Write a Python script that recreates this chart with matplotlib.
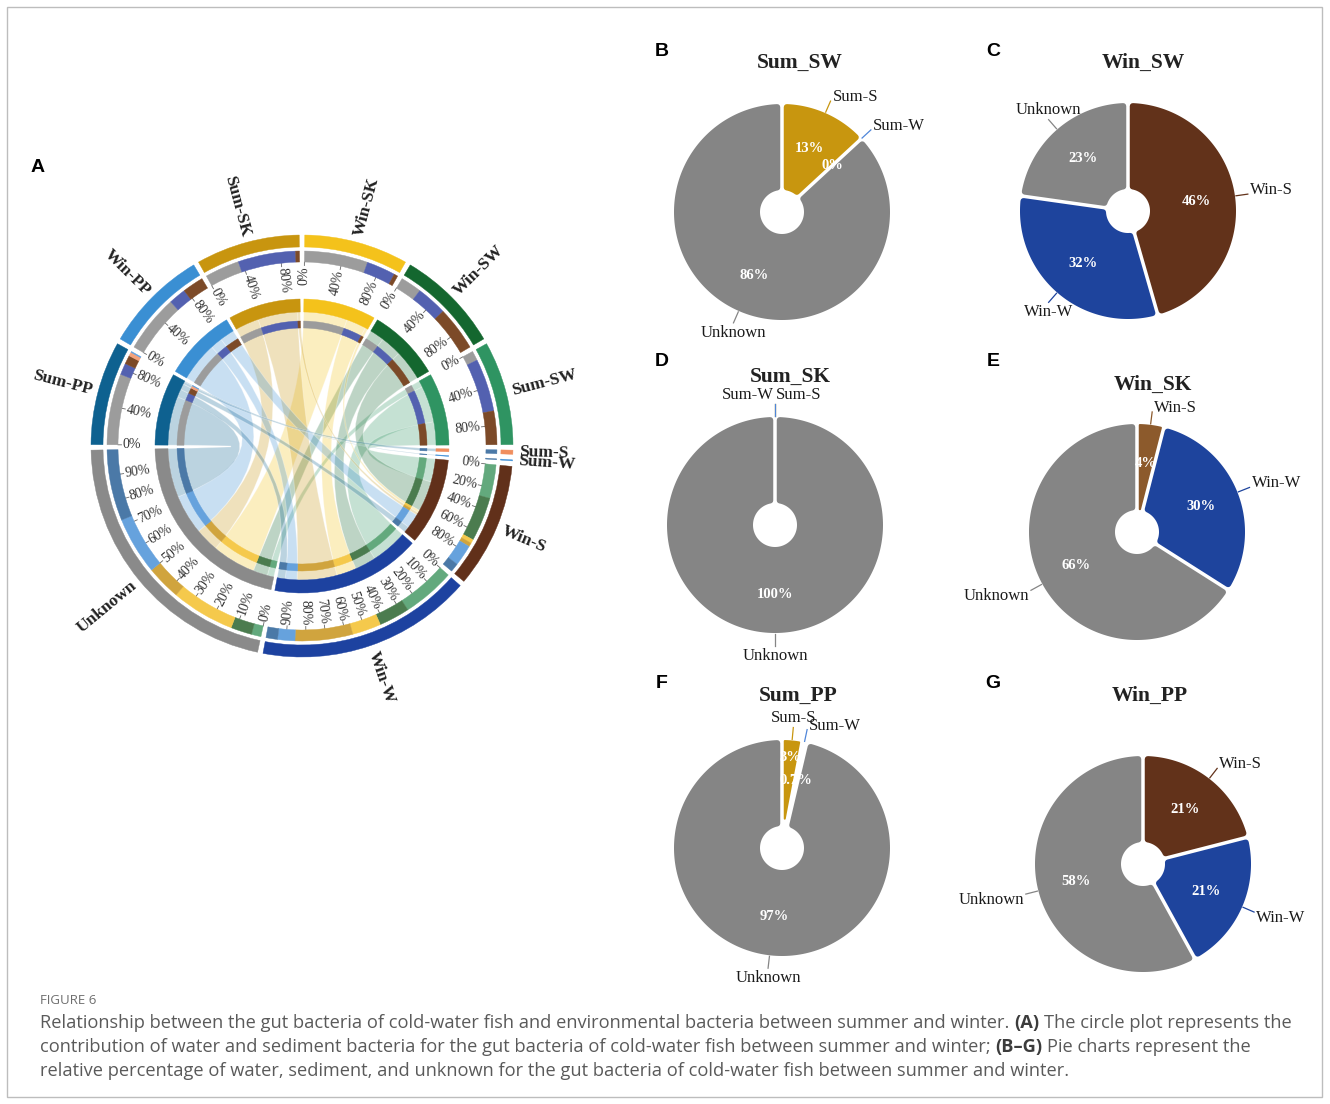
import numpy as np
import matplotlib.pyplot as plt
from matplotlib.patches import Wedge, Polygon, PathPatch, Rectangle
from matplotlib.path import Path

plt.rcParams["font.family"] = ["Liberation Serif", "DejaVu Serif"]

W, H = 1330, 1104
fig = plt.figure(figsize=(W / 100, H / 100), dpi=100)

# ---------------- panel A : source contributions (chord diagram) ----------------
fish_order = ["Sum-SW", "Win-SW", "Win-SK", "Sum-SK", "Win-PP", "Sum-PP"]
source_order = ["Unknown", "Win-W", "Win-S", "Sum-S", "Sum-W"]
# share of each gut community attributed to each source (Unknown, Win-W, Win-S, Sum-S, Sum-W)
sum_sw = [0.10, 0.55, 0.35, 0.00, 0.00]
win_sw = [0.22, 0.32, 0.46, 0.00, 0.00]
win_sk = [0.66, 0.30, 0.04, 0.00, 0.00]
sum_sk = [0.36, 0.60, 0.04, 0.00, 0.00]
win_pp = [0.60, 0.18, 0.22, 0.00, 0.00]
sum_pp = [0.74, 0.12, 0.09, 0.04, 0.01]
contrib = np.array([sum_sw, win_sw, win_sk, sum_sk, win_pp, sum_pp])

circle_order = ["Win-SK", "Win-SW", "Sum-SW", "Sum-S", "Sum-W", "Win-S",
                "Win-W", "Unknown", "Sum-PP", "Win-PP", "Sum-SK"]

fish_ticks = [0.0, 0.4, 0.8]
win_s_ticks = [0.0, 0.2, 0.4, 0.6, 0.8]
decile_ticks = [0.0, 0.1, 0.2, 0.3, 0.4, 0.5, 0.6, 0.7, 0.8, 0.9]

# ---------------- panels B-G : pies ----------------
pie_titles = ["Sum_SW", "Win_SW", "Sum_SK", "Win_SK", "Sum_PP", "Win_PP"]
pie_labels = [["Sum-S", "Sum-W", "Unknown"],
              ["Win-S", "Win-W", "Unknown"],
              ["Sum-S", "Sum-W", "Unknown"],
              ["Win-S", "Win-W", "Unknown"],
              ["Sum-S", "Sum-W", "Unknown"],
              ["Win-S", "Win-W", "Unknown"]]
pie_values = [[13, 0, 86],
              [46, 32, 23],
              [0, 0, 100],
              [4, 30, 66],
              [3, 0.7, 97],
              [21, 21, 58]]

# colours
sec_col = {"Win-SK": "#f4c21b", "Win-SW": "#14672f", "Sum-SW": "#2f9462",
           "Sum-S": "#f08e5e", "Sum-W": "#3d8ed6", "Win-S": "#61301a",
           "Win-W": "#1d42a0", "Unknown": "#8a8a8a", "Sum-PP": "#0e6190",
           "Win-PP": "#3a8fd3", "Sum-SK": "#c8950f"}
trk_col = {"Unknown": "#9c9c9c", "Win-W": "#5361b0", "Win-S": "#7c4a28",
           "Sum-S": "#f4a27c", "Sum-W": "#5b9ee0", "Sum-SW": "#63a97d",
           "Win-SW": "#4b7c4f", "Win-SK": "#f5c94c", "Sum-SK": "#d0a43e",
           "Win-PP": "#66a2dd", "Sum-PP": "#4b79a7"}
pie_col = {"Unknown": "#858585", "Sum-S": "#c8960f", "Sum-W": "#4f86d9",
           "Win-S": "#62321a", "Win-W": "#1e449d"}
pie_col_override = {("Win_SK", "Win-S"): "#8c5a2c"}


def fx(x):
    return x / W


def fy(y):
    return 1 - y / H


def px_axes(cx, cy, hw, hh):
    # axes where one data unit is one pixel, origin at (cx, cy)
    ax = fig.add_axes([fx(cx - hw), fy(cy + hh), 2 * hw / W, 2 * hh / H])
    ax.set_xlim(-hw, hw)
    ax.set_ylim(-hh, hh)
    ax.axis("off")
    return ax


def pol(r, deg):
    t = np.radians(deg)
    return r * np.cos(t), r * np.sin(t)


def radial_text(ax, r, deg, s, outward, **kw):
    th = (deg + 180) % 360 - 180
    right = -90 < th <= 90
    rot = th if right else th + 180
    if outward:
        ha = "left" if right else "right"
    else:
        ha = "right" if right else "left"
    x, y = pol(r, deg)
    ax.text(x, y, s, rotation=rot, rotation_mode="anchor", ha=ha, va="center", **kw)


def ring(ax, r0, r1, a1, a2, color, z=3):
    ax.add_patch(Wedge((0, 0), r1, a2, a1, width=r1 - r0, fc=color, ec=color,
                       lw=0.3, zorder=z))


def chord(ax, a1, a2, b1, b2, r, color):
    ta = np.linspace(a1, a2, 40)
    tb = np.linspace(b1, b2, 40)
    arc_a = [pol(r, t) for t in ta]
    arc_b = [pol(r, t) for t in tb]
    verts = arc_a + [(0, 0), arc_b[0]] + arc_b[1:] + [(0, 0), arc_a[0], arc_a[0]]
    codes = ([Path.MOVETO] + [Path.LINETO] * (len(arc_a) - 1) + [Path.CURVE3] * 2
             + [Path.LINETO] * (len(arc_b) - 1) + [Path.CURVE3] * 2 + [Path.CLOSEPOLY])
    ax.add_patch(PathPatch(Path(verts, codes), fc=color, alpha=0.28, ec="white",
                           lw=0.7, zorder=1))


# ---- chord diagram ----
axA = px_axes(302, 446, 290, 300)

R_OUT, R_OTRK = (199, 211), (184, 195)
R_IN, R_ITRK = (134, 147), (118, 125)
R_CHORD = 134
gap = 1.5

sizes = {f: contrib[i].sum() for i, f in enumerate(fish_order)}
sizes.update({s: contrib[:, j].sum() for j, s in enumerate(source_order)})
unit = (360 - gap * len(circle_order)) / sum(sizes.values())

start, end = {}, {}
a = 90 - gap / 2
for name in circle_order:
    start[name] = a
    end[name] = a - sizes[name] * unit
    a = end[name] - gap

fish_seg, src_seg = {}, {}
for i, f in enumerate(fish_order):
    a = start[f]
    for j, s in enumerate(source_order):
        w = contrib[i, j] * unit
        fish_seg[(f, s)] = (a, a - w)
        a -= w
for j, s in enumerate(source_order):
    b = start[s]
    for i, f in enumerate(fish_order):
        w = contrib[i, j] * unit
        src_seg[(f, s)] = (b, b - w)
        b -= w

for i, f in enumerate(fish_order):
    for j, s in enumerate(source_order):
        if contrib[i, j] <= 0:
            continue
        a1, a2 = fish_seg[(f, s)]
        b1, b2 = src_seg[(f, s)]
        chord(axA, a1, a2, b1, b2, R_CHORD, sec_col[f])
        for r0, r1 in (R_OTRK, R_ITRK):
            ring(axA, r0, r1, a1, a2, trk_col[s])
            ring(axA, r0, r1, b1, b2, trk_col[f])

for name in circle_order:
    a1, a2 = start[name], end[name]
    ring(axA, *R_OUT, a1, a2, sec_col[name])
    ring(axA, *R_IN, a1, a2, sec_col[name])
    radial_text(axA, 217, (a1 + a2) / 2, name, True, fontsize=12.5,
                fontweight="bold", color="#222222")
    if name in fish_order:
        ticks = fish_ticks
    elif name == "Win-S":
        ticks = win_s_ticks
    elif name in ("Win-W", "Unknown"):
        ticks = decile_ticks
    else:
        ticks = []
    for t in ticks:
        ang = a1 - t * (a1 - a2)
        x0, y0 = pol(R_OTRK[0], ang)
        x1, y1 = pol(R_OTRK[0] - 3.5, ang)
        axA.plot([x0, x1], [y0, y1], color="#666666", lw=0.6)
        radial_text(axA, R_OTRK[0] - 4.5, ang, f"{int(round(t * 100))}%", False,
                    fontsize=10, color="#333333")


# ---- pies ----
def rounded_wedge(ax, r_in, r_out, t1, t2, gap_px, rad, color):
    span = t1 - t2
    if span <= 0:
        return
    if span < 25:
        rad = 1.0
    s = gap_px / 2 + rad
    ro, ri = r_out - rad, r_in + rad
    half = np.radians(span / 2)
    if span < 180 and s / np.sin(half) >= ro:
        return
    do = np.degrees(np.arcsin(s / ro))
    pts = [pol(ro, t) for t in np.linspace(t1 - do, t2 + do, 240)]
    if span < 180 and s / np.sin(half) >= ri:
        pts.append(pol(s / np.sin(half), (t1 + t2) / 2))
    else:
        di = np.degrees(np.arcsin(s / ri))
        pts += [pol(ri, t) for t in np.linspace(t2 + di, t1 - di, 120)]
    ax.add_patch(Polygon(pts, closed=True, fc=color, ec=color,
                         lw=2 * rad * 0.72, joinstyle="round"))


label_align_override = {("Sum_SK", "Sum-W"): "right", ("Sum_SK", "Sum-S"): "left"}


def draw_pie(ax, title, labels, values, R=108, hole=22):
    total = float(sum(values))
    n_zero = sum(v == 0 for v in values)
    a = 90.0
    mids = []
    for lab, v in zip(labels, values):
        col = pie_col_override.get((title, lab), pie_col[lab])
        t1, t2 = a, a - v / total * 360
        a = t2
        rounded_wedge(ax, hole, R, t1, t2, 3.5, 3.0, col)
        mid = (t1 + t2) / 2
        mids.append(mid)
        x0, y0 = pol(R + 1, mid)
        x1, y1 = pol(R + 13, mid)
        ax.plot([x0, x1], [y0, y1], color=col, lw=0.9)
        c, sn = np.cos(np.radians(mid)), np.sin(np.radians(mid))
        key = (title, lab)
        if key in label_align_override:
            ha = label_align_override[key]
            ax.text(x1 + (-1 if ha == "right" else 1), y1 + 1, lab, ha=ha, va="bottom",
                    fontsize=12, color="#1a1a1a")
        elif c >= 0.1 or c <= -0.75:
            ha = "left" if c > 0 else "right"
            dx = 2 if c > 0 else -2
            dy = 4 if sn >= 0 else -6
            ax.text(x1 + dx, y1 + dy, lab, ha=ha, va="center", fontsize=12,
                    color="#1a1a1a")
        else:
            va = "bottom" if sn > 0 else "top"
            ax.text(x1, y1 + (2 if sn > 0 else -2), lab, ha="center", va=va,
                    fontsize=12, color="#1a1a1a")

    # percentage labels; a label crowded by the next one is pushed outward
    radii = [0.64 * R] * len(values)
    for k in range(len(values) - 1):
        pa = np.array(pol(radii[k], mids[k]))
        pb = np.array(pol(radii[k + 1], mids[k + 1]))
        if values[k] > 0 and values[k + 1] > 0 and np.hypot(*(pa - pb)) < 22:
            radii[k] = 0.84 * R
    for k, v in enumerate(values):
        if v > 0 or n_zero < 2:
            x, y = pol(radii[k], mids[k])
            ax.text(x, y, f"{v:g}%", color="white", fontsize=10.5,
                    fontweight="bold", ha="center", va="center")


pie_layout = [("B", (662, 52), (782, 212), (800, 63)),
              ("C", (993, 52), (1128, 211), (1143, 63)),
              ("D", (662, 362), (775, 525), (790, 377)),
              ("E", (993, 362), (1137, 532), (1153, 385)),
              ("F", (662, 683), (782, 848), (798, 696)),
              ("G", (993, 683), (1143, 864), (1150, 696))]

for (letter, lxy, cxy, txy), title, labs, vals in zip(pie_layout, pie_titles,
                                                      pie_labels, pie_values):
    ax = px_axes(cxy[0], cxy[1], 150, 150)
    draw_pie(ax, title, labs, vals)
    fig.text(fx(txy[0]), fy(txy[1]), title, fontsize=15.5, fontweight="bold",
             ha="center", va="center", color="#222222")
    fig.text(fx(lxy[0]), fy(lxy[1]), letter, family="Liberation Sans",
             fontsize=14, fontweight="bold", ha="center", va="center")

fig.text(fx(38), fy(168), "A", family="Liberation Sans", fontsize=14,
         fontweight="bold", ha="center", va="center")

# ---- caption ----
renderer = fig.canvas.get_renderer()


def text_width(s, **kw):
    t = fig.text(0, 0, s, **kw)
    w = t.get_window_extent(renderer).width
    t.remove()
    return w


cap_lines = [
    [("Relationship between the gut bacteria of cold-water fish and environmental "
      "bacteria between summer and winter.", False), ("(A)", True),
     ("The circle plot represents the", False)],
    [("contribution of water and sediment bacteria for the gut bacteria of "
      "cold-water fish between summer and winter;", False), ("(B\u2013G)", True),
     ("Pie charts represent the", False)],
    [("relative percentage of water, sediment, and unknown for the gut bacteria "
      "of cold-water fish between summer and winter.", False)],
]

cap_font = dict(family=["Open Sans", "DejaVu Sans"], fontsize=12)
w1 = sum(text_width(s, fontweight="bold" if b else "normal", **cap_font)
         for s, b in cap_lines[0])
w1 += 2 * (text_width("n n", **cap_font) - text_width("nn", **cap_font))
cap_font["fontsize"] = 12 * 1248 / w1
space = text_width("n n", **cap_font) - text_width("nn", **cap_font)

fig.text(fx(40), fy(1000), "FIGURE 6", color="#6e6e6e", va="center",
         family=["Open Sans", "DejaVu Sans"], fontsize=9.5)
for k, parts in enumerate(cap_lines):
    x = 40
    y = 1023 + 24 * k
    for s, bold in parts:
        t = fig.text(fx(x), fy(y), s, va="center", ha="left",
                     fontweight="bold" if bold else "normal",
                     color="#3c3c3c" if bold else "#5a5a5a", **cap_font)
        x += t.get_window_extent(renderer).width + space

fig.patches.append(Rectangle((fx(7), fy(1097)), (1322 - 7) / W, (1097 - 7) / H,
                             transform=fig.transFigure, fill=False,
                             ec="#bdbdbd", lw=1))

fig.savefig("out.png", dpi=100)
